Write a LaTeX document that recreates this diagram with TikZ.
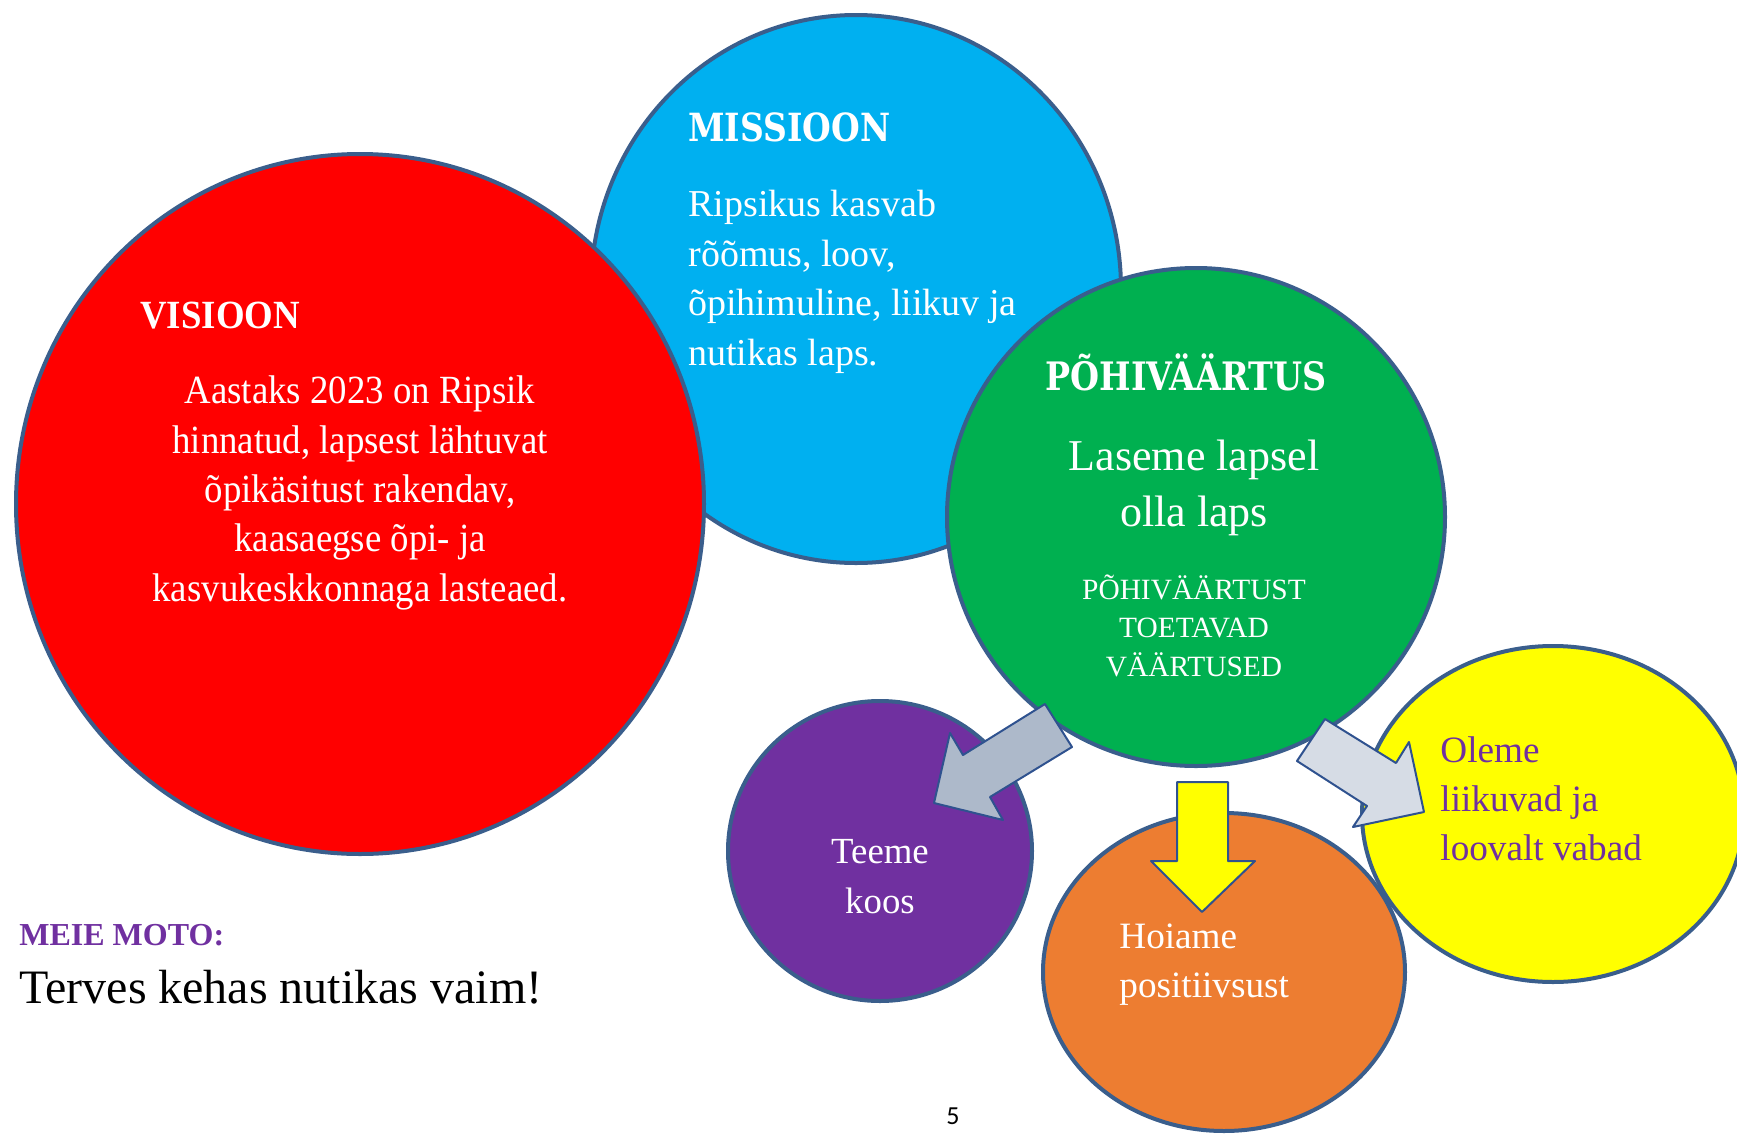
\documentclass[tikz,border=0pt]{standalone}
\usepackage{fontspec}
\setmainfont{Liberation Serif}
\newfontfamily\condserif[FakeStretch=0.92]{Liberation Serif}
\newfontfamily\slabserif[FakeStretch=0.85]{DejaVu Serif}
\newfontfamily\pagefont{Carlito}
\usetikzlibrary{shapes.geometric}
\definecolor{edgeblue}{RGB}{58,94,140}
\definecolor{arrowedge}{RGB}{47,82,143}
\definecolor{redfill}{RGB}{255,0,0}
\definecolor{skyfill}{RGB}{0,176,240}
\definecolor{greenfill}{RGB}{0,176,80}
\definecolor{purplefill}{RGB}{112,48,160}
\definecolor{orangefill}{RGB}{237,125,49}
\definecolor{yellowfill}{RGB}{255,255,0}
\definecolor{arrowgrey}{RGB}{173,185,202}
\definecolor{arrowpale}{RGB}{214,220,229}
\begin{document}
\begin{tikzpicture}[x=0.5pt, y=-0.5pt, line join=round,
	bubble/.style={ellipse, draw=edgeblue, line width=2pt, inner sep=0pt},
	blockarrow/.style={draw=arrowedge, line width=1pt},
	txt/.style={text=white, inner sep=0pt}]
	\useasboundingbox (0,0) rectangle (1737,1136);
	% the circles, back to front
	\foreach \n/\x/\y/\w/\h/\c in {missioon/856/289/265/274/skyfill,
		visioon/360/504/344/350/redfill, pohi/1196/517/249/249/greenfill,
		koos/880/851/152/150/purplefill, vabad/1553/814/191/168/yellowfill,
		hoiame/1224/972/181/159/orangefill}{
		\node[bubble, fill=\c, minimum width={\w pt}, minimum height={\h pt}] (\n) at (\x,\y) {};}
	% block arrows
	\draw[blockarrow, fill=arrowgrey] (1045,704)--(1072,747)--(990,797)--(1003,820)
		--(934,803)--(950,733)--(963,755)--cycle;
	\draw[blockarrow, fill=yellowfill] (1177,782)--(1228,782)--(1228,861)--(1255,861)
		--(1202,912)--(1151,861)--(1177,861)--cycle;
	\draw[blockarrow, fill=arrowpale] (1325,719)--(1297,761)--(1367,806)--(1353,827)
		--(1424,812)--(1409,742)--(1396,763)--cycle;
	% texts (multi-line nodes sit on their last baseline)
	\node[txt, anchor=base west, font=\condserif\bfseries\fontsize{20}{24}\selectfont] (visioonhead) at (140,328) {VISIOON};
	\node[txt, anchor=base, align=center, font=\condserif\fontsize{20}{24.65}\selectfont] (visioontext) at (360,601)
		{Aastaks 2023 on Ripsik\\hinnatud, lapsest lähtuvat\\õpikäsitust rakendav,\\kaasaegse õpi- ja\\kasvukeskkonnaga lasteaed.};
	\node[txt, anchor=base west, font=\slabserif\bfseries\fontsize{19.4}{24}\selectfont] (missioonhead) at (688,141) {MISSIOON};
	\node[txt, anchor=base west, align=left, font=\fontsize{19}{24.75}\selectfont] (missioontext) at (688,365)
		{Ripsikus kasvab\\rõõmus, loov,\\õpihimuline, liikuv ja\\nutikas laps.};
	\node[txt, anchor=base, font=\slabserif\bfseries\fontsize{19.6}{23}\selectfont] (pohihead) at (1186,390) {PÕHIVÄÄRTUS};
	\node[txt, anchor=base, align=center, font=\fontsize{22}{28}\selectfont] (pohitext) at (1194,526) {Laseme lapsel\\olla laps};
	\node[txt, anchor=base, align=center, font=\fontsize{14.7}{19.25}\selectfont] (pohinote) at (1194,676)
		{PÕHIVÄÄRTUST\\TOETAVAD\\VÄÄRTUSED};
	\node[txt, anchor=base, align=center, font=\fontsize{18.4}{25}\selectfont] (koostext) at (880,913) {Teeme\\koos};
	\node[txt, anchor=base west, align=left, font=\fontsize{18.6}{24.5}\selectfont] (hoiametext) at (1119,997) {Hoiame\\positiivsust};
	\node[txt, text=purplefill, anchor=base west, align=left, font=\fontsize{18.6}{24.5}\selectfont] (vabadtext) at (1440,860)
		{Oleme\\liikuvad ja\\loovalt vabad};
	\node[txt, text=purplefill, anchor=base west, font=\bfseries\fontsize{16}{19}\selectfont] (motohead) at (19,945) {MEIE MOTO:};
	\node[txt, text=black, anchor=base west, font=\fontsize{24}{29}\selectfont] (mototext) at (19,1003) {Terves kehas nutikas vaim!};
	\node[txt, text=black, anchor=base, font=\pagefont\fontsize{13}{15}\selectfont] (pagenum) at (953,1124) {5};
\end{tikzpicture}
\end{document}
